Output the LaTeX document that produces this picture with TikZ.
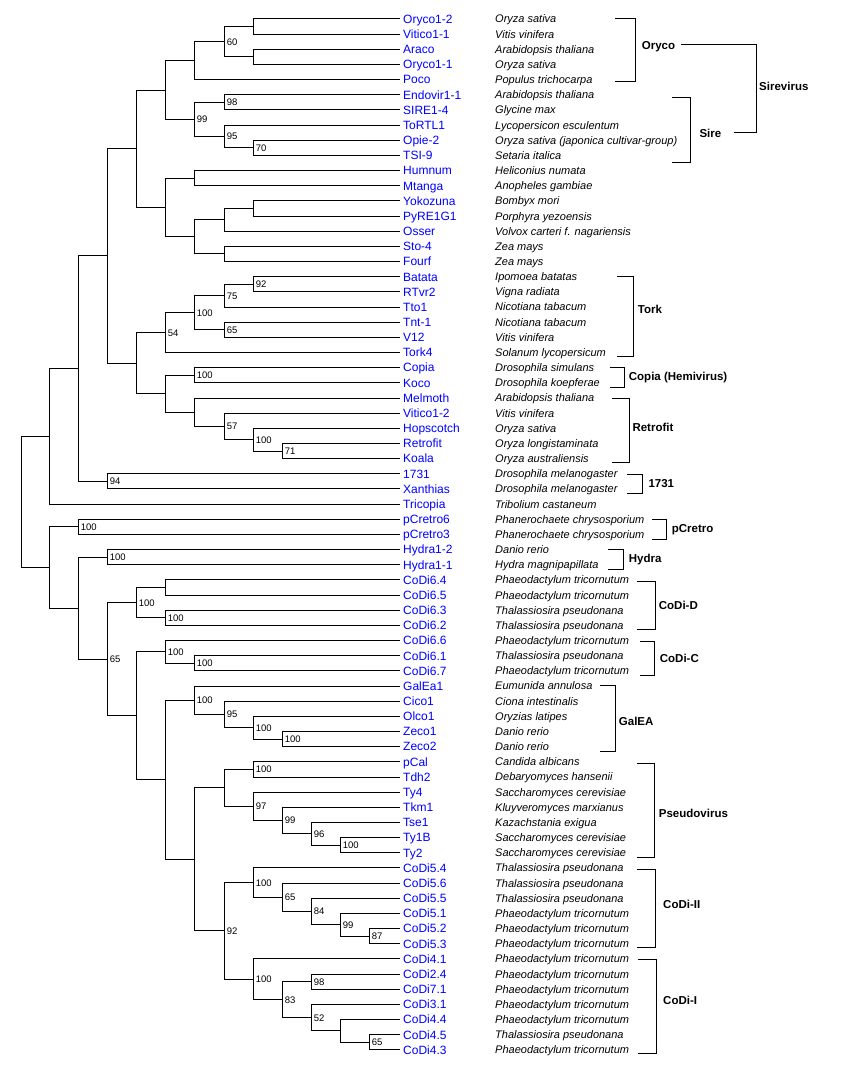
\documentclass[tikz,border=0pt]{standalone}
\usepackage{fontspec}
\setmainfont{Liberation Sans}
\usetikzlibrary{calc}
\definecolor{nameblue}{RGB}{0,0,255}
\tikzset{
  br/.style={line width=1pt, line cap=rect, black},
  nm/.style={anchor=west, inner sep=0pt, text height=8.6pt, text depth=0pt, text=nameblue, font=\fontsize{12}{14}\selectfont},
  sp/.style={anchor=west, inner sep=0pt, text height=7.9pt, text depth=0pt, font=\fontsize{11}{13}\selectfont\itshape},
  bs/.style={anchor=west, inner sep=0pt, text height=6.8pt, text depth=0pt, font=\fontsize{9.5}{11}\selectfont},
  grp/.style={anchor=west, inner sep=0pt, text height=8.2pt, text depth=0pt, font=\fontsize{11.5}{13}\selectfont\bfseries},
}
\newcommand\leaf[3]{%
  \coordinate (L#1) at (399, {19+(#1-1)*15.16});
  \node[nm] (N#1) at (403, {19+(#1-1)*15.16}) {#2};
  \node[sp] (S#1) at (495, {19+(#1-1)*15.16}) {#3};
}
\newcommand\inode[5]{%
  \path let \p1=(#3), \p2=(#4) in ({#2pt},{0.5*(\y1+\y2)}) coordinate (#1);
  \draw[br] (#1) |- (#3) (#1) |- (#4);
  \if\relax\detokenize{#5}\relax\else
    \node[bs] (#1b) at ([xshift=2.7pt]#1) {#5};
  \fi
}
\newcommand\bracketdraw[4]{%
  \draw[br] (#1,#3) -| (#2,#4) -- (#1,#4);
}
\begin{document}
\begin{tikzpicture}[x=1pt,y=-1pt]
\useasboundingbox (0,0) rectangle (840,1078);
% leaves
\leaf{1}{Oryco1-2}{Oryza sativa}
\leaf{2}{Vitico1-1}{Vitis vinifera}
\leaf{3}{Araco}{Arabidopsis thaliana}
\leaf{4}{Oryco1-1}{Oryza sativa}
\leaf{5}{Poco}{Populus trichocarpa}
\leaf{6}{Endovir1-1}{Arabidopsis thaliana}
\leaf{7}{SIRE1-4}{Glycine max}
\leaf{8}{ToRTL1}{Lycopersicon esculentum}
\leaf{9}{Opie-2}{Oryza sativa (japonica cultivar-group)}
\leaf{10}{TSI-9}{Setaria italica}
\leaf{11}{Humnum}{Heliconius numata}
\leaf{12}{Mtanga}{Anopheles gambiae}
\leaf{13}{Yokozuna}{Bombyx mori}
\leaf{14}{PyRE1G1}{Porphyra yezoensis}
\leaf{15}{Osser}{Volvox carteri f. nagariensis}
\leaf{16}{Sto-4}{Zea mays}
\leaf{17}{Fourf}{Zea mays}
\leaf{18}{Batata}{Ipomoea batatas}
\leaf{19}{RTvr2}{Vigna radiata}
\leaf{20}{Tto1}{Nicotiana tabacum}
\leaf{21}{Tnt-1}{Nicotiana tabacum}
\leaf{22}{V12}{Vitis vinifera}
\leaf{23}{Tork4}{Solanum lycopersicum}
\leaf{24}{Copia}{Drosophila simulans}
\leaf{25}{Koco}{Drosophila koepferae}
\leaf{26}{Melmoth}{Arabidopsis thaliana}
\leaf{27}{Vitico1-2}{Vitis vinifera}
\leaf{28}{Hopscotch}{Oryza sativa}
\leaf{29}{Retrofit}{Oryza longistaminata}
\leaf{30}{Koala}{Oryza australiensis}
\leaf{31}{1731}{Drosophila melanogaster}
\leaf{32}{Xanthias}{Drosophila melanogaster}
\leaf{33}{Tricopia}{Tribolium castaneum}
\leaf{34}{pCretro6}{Phanerochaete chrysosporium}
\leaf{35}{pCretro3}{Phanerochaete chrysosporium}
\leaf{36}{Hydra1-2}{Danio rerio}
\leaf{37}{Hydra1-1}{Hydra magnipapillata}
\leaf{38}{CoDi6.4}{Phaeodactylum tricornutum}
\leaf{39}{CoDi6.5}{Phaeodactylum tricornutum}
\leaf{40}{CoDi6.3}{Thalassiosira pseudonana}
\leaf{41}{CoDi6.2}{Thalassiosira pseudonana}
\leaf{42}{CoDi6.6}{Phaeodactylum tricornutum}
\leaf{43}{CoDi6.1}{Thalassiosira pseudonana}
\leaf{44}{CoDi6.7}{Phaeodactylum tricornutum}
\leaf{45}{GalEa1}{Eumunida annulosa}
\leaf{46}{Cico1}{Ciona intestinalis}
\leaf{47}{Olco1}{Oryzias latipes}
\leaf{48}{Zeco1}{Danio rerio}
\leaf{49}{Zeco2}{Danio rerio}
\leaf{50}{pCal}{Candida albicans}
\leaf{51}{Tdh2}{Debaryomyces hansenii}
\leaf{52}{Ty4}{Saccharomyces cerevisiae}
\leaf{53}{Tkm1}{Kluyveromyces marxianus}
\leaf{54}{Tse1}{Kazachstania exigua}
\leaf{55}{Ty1B}{Saccharomyces cerevisiae}
\leaf{56}{Ty2}{Saccharomyces cerevisiae}
\leaf{57}{CoDi5.4}{Thalassiosira pseudonana}
\leaf{58}{CoDi5.6}{Thalassiosira pseudonana}
\leaf{59}{CoDi5.5}{Thalassiosira pseudonana}
\leaf{60}{CoDi5.1}{Phaeodactylum tricornutum}
\leaf{61}{CoDi5.2}{Phaeodactylum tricornutum}
\leaf{62}{CoDi5.3}{Phaeodactylum tricornutum}
\leaf{63}{CoDi4.1}{Phaeodactylum tricornutum}
\leaf{64}{CoDi2.4}{Phaeodactylum tricornutum}
\leaf{65}{CoDi7.1}{Phaeodactylum tricornutum}
\leaf{66}{CoDi3.1}{Phaeodactylum tricornutum}
\leaf{67}{CoDi4.4}{Phaeodactylum tricornutum}
\leaf{68}{CoDi4.5}{Thalassiosira pseudonana}
\leaf{69}{CoDi4.3}{Phaeodactylum tricornutum}
% Sirevirus part
\inode{a1}{253}{L1}{L2}{}
\inode{a2}{253}{L3}{L4}{}
\inode{a3}{224}{a1}{a2}{60}
\inode{a4}{194}{a3}{L5}{}
\inode{a5}{224}{L6}{L7}{98}
\inode{a6}{253}{L9}{L10}{70}
\inode{a7}{224}{L8}{a6}{95}
\inode{a8}{194}{a5}{a7}{99}
\inode{a9}{165}{a4}{a8}{}
\inode{b1}{194}{L11}{L12}{}
\inode{b2}{253}{L13}{L14}{}
\inode{b3}{224}{b2}{L15}{}
\inode{b4}{224}{L16}{L17}{}
\inode{b5}{194}{b3}{b4}{}
\inode{b6}{165}{b1}{b5}{}
\inode{b7}{136}{a9}{b6}{}
% Tork, Copia, Retrofit
\inode{c1}{253}{L18}{L19}{92}
\inode{c2}{224}{c1}{L20}{75}
\inode{c3}{224}{L21}{L22}{65}
\inode{c4}{194}{c2}{c3}{100}
\inode{c5}{165}{c4}{L23}{54}
\inode{c6}{194}{L24}{L25}{100}
\inode{c7}{282}{L29}{L30}{71}
\inode{c8}{253}{L28}{c7}{100}
\inode{c9}{224}{L27}{c8}{57}
\inode{c10}{194}{L26}{c9}{}
\inode{c11}{165}{c6}{c10}{}
\inode{c12}{136}{c5}{c11}{}
\inode{c13}{107}{b7}{c12}{}
\inode{d1}{107}{L31}{L32}{94}
\inode{d2}{78}{c13}{d1}{}
\inode{d3}{49}{d2}{L33}{}
% lower part
\inode{e1}{78}{L34}{L35}{100}
\inode{e2}{107}{L36}{L37}{100}
\inode{f1}{165}{L38}{L39}{}
\inode{f2}{165}{L40}{L41}{100}
\inode{f3}{136}{f1}{f2}{100}
\inode{g1}{194}{L43}{L44}{100}
\inode{g2}{165}{L42}{g1}{100}
\inode{h1}{282}{L48}{L49}{100}
\inode{h2}{253}{L47}{h1}{100}
\inode{h3}{224}{L46}{h2}{95}
\inode{h4}{194}{L45}{h3}{100}
\inode{p1}{253}{L50}{L51}{100}
\inode{p2}{340}{L55}{L56}{100}
\inode{p3}{311}{L54}{p2}{96}
\inode{p4}{282}{L53}{p3}{99}
\inode{p5}{253}{L52}{p4}{97}
\inode{p6}{224}{p1}{p5}{}
\inode{k1}{369}{L61}{L62}{87}
\inode{k2}{340}{L60}{k1}{99}
\inode{k3}{311}{L59}{k2}{84}
\inode{k4}{282}{L58}{k3}{65}
\inode{k5}{253}{L57}{k4}{100}
\inode{m1}{311}{L64}{L65}{98}
\inode{m2}{369}{L68}{L69}{65}
\inode{m3}{340}{L67}{m2}{}
\inode{m4}{311}{L66}{m3}{52}
\inode{m5}{282}{m1}{m4}{83}
\inode{m6}{253}{L63}{m5}{100}
\inode{k6}{224}{k5}{m6}{92}
\inode{q1}{194}{p6}{k6}{}
\inode{q2}{165}{h4}{q1}{}
\inode{q3}{136}{g2}{q2}{}
\inode{q4}{107}{f3}{q3}{65}
\inode{q5}{78}{e2}{q4}{}
\inode{q6}{49}{e1}{q5}{}
\inode{root}{21}{d3}{q6}{}
% group brackets and labels
\bracketdraw{615}{635.7}{18.7}{82}
\node[grp] (gOryco) at (641.7,45.5) {Oryco};
\bracketdraw{672.7}{690.7}{97.7}{162.3}
\node[grp] (gSire) at (699.3,133.5) {Sire};
\coordinate (svA) at (681.7,44.3);
\coordinate (svB) at (734.3,132.3);
\draw[br] (svA) -| (756.7,88) |- (svB);
\node[grp] (gSirevirus) at (759,86) {Sirevirus};
\bracketdraw{617}{633.3}{276.3}{356.3}
\node[grp] (gTork) at (637.7,309.5) {Tork};
\bracketdraw{610}{624}{367.3}{387.3}
\node[grp] (gCopia) at (628.7,376.7) {Copia (Hemivirus)};
\bracketdraw{612}{629.7}{398.3}{462.3}
\node[grp] (gRetrofit) at (632.3,427.7) {Retrofit};
\bracketdraw{627}{642.3}{474.7}{493.3}
\node[grp] (g1731) at (648.3,483.7) {1731};
\bracketdraw{652}{666.3}{519.7}{539.3}
\node[grp] (gpCretro) at (671.7,528.7) {pCretro};
\bracketdraw{608}{623.7}{549.3}{569.3}
\node[grp] (gHydra) at (628.7,558.7) {Hydra};
\bracketdraw{637}{655.3}{581.7}{629.3}
\node[grp] (gCoDiD) at (658.7,605.7) {CoDi-D};
\bracketdraw{640.3}{654.3}{641}{675.3}
\node[grp] (gCoDiC) at (659.7,658.7) {CoDi-C};
\bracketdraw{600}{615.3}{685.7}{751.3}
\node[grp] (gGalEA) at (618.7,721.7) {GalEA};
\bracketdraw{637.7}{654.3}{763.3}{857}
\node[grp] (gPseudo) at (658.7,813.3) {Pseudovirus};
\bracketdraw{637}{655.3}{869.3}{947.3}
\node[grp] (gCoDiII) at (663,904.7) {CoDi-II};
\bracketdraw{638.7}{656.3}{959.3}{1053.3}
\node[grp] (gCoDiI) at (663,1000.7) {CoDi-I};
\end{tikzpicture}
\end{document}
